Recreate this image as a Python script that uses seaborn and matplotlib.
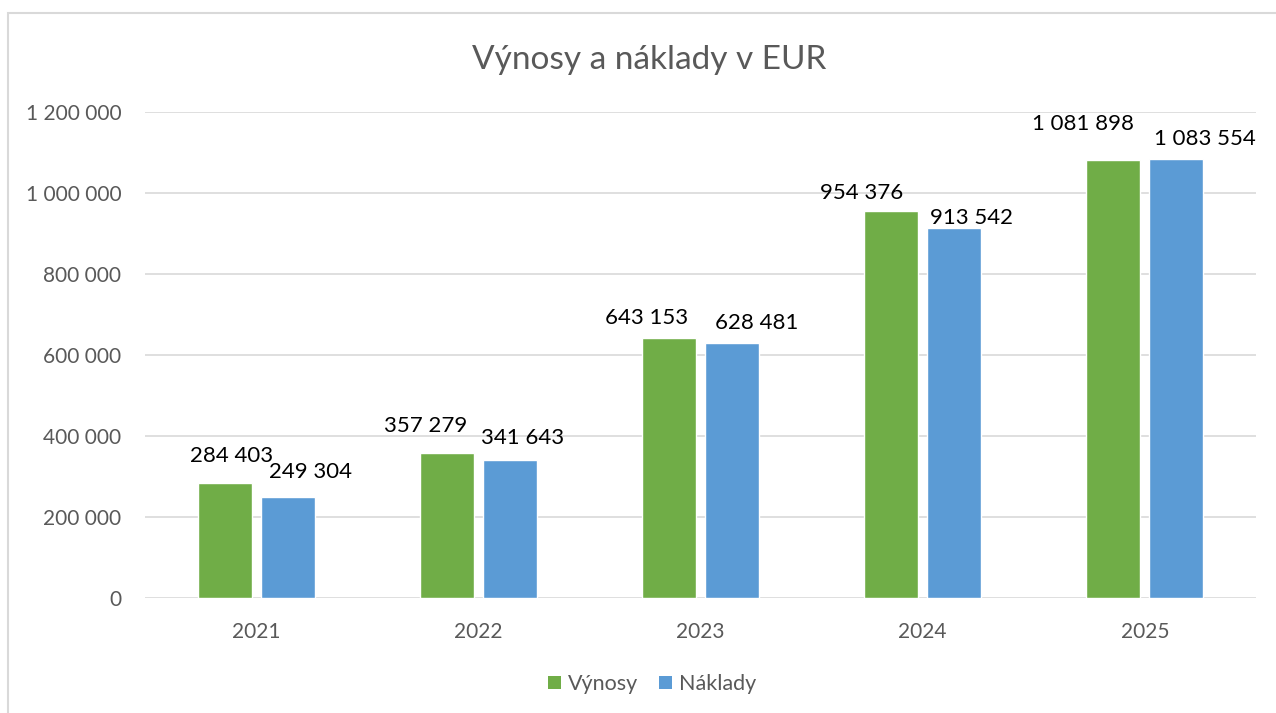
import pandas as pd
import numpy as np
import matplotlib.pyplot as plt
import seaborn as sns
from matplotlib.patches import Rectangle, Patch

# Data
years = ['2021', '2022', '2023', '2024', '2025']
vynosy = [284403, 357279, 643153, 954376, 1081898]
naklady = [249304, 341643, 628481, 913542, 1083554]
series = ['Výnosy', 'Náklady']
colors = ['#70AD47', '#5B9BD5']

# label nudges in pixels (dx, dy above bar top), per series
label_nudge = {
    'Výnosy': [(7, 27), (-21, 27), (-22, 20), (-30, 18), (-30, 36)],
    'Náklady': [(23, 25), (13, 22), (25, 20), (17, 10), (28, 20)],
}

df = pd.DataFrame({
    'rok': years * 2,
    'hodnota': vynosy + naklady,
    'typ': [series[0]] * len(years) + [series[1]] * len(years),
})

sns.set_style('white')
plt.rcParams['font.family'] = ['Lato', 'DejaVu Sans']

fig = plt.figure(figsize=(12.76, 7.13), dpi=100)
ax = fig.add_axes([145 / 1276, 1 - 598 / 713, 1111 / 1276, 486 / 713])

sns.barplot(data=df, x='rok', y='hodnota', hue='typ', hue_order=series,
            palette=colors, width=0.567, gap=0.14, saturation=1, ax=ax,
            legend=False, zorder=3)

ax.set_ylim(0, 1200000)
ax.set_xlim(-0.5, 4.5)
ax.set_yticks(np.arange(0, 1200001, 200000))
ax.set_yticklabels([f'{v:,}'.replace(',', ' ') for v in np.arange(0, 1200001, 200000)])
ax.grid(axis='y', color='#D9D9D9', lw=1.2, zorder=0)
for s in ax.spines.values():
    s.set_visible(False)
ax.tick_params(axis='both', length=0, labelsize=15, labelcolor='#595959')
ax.tick_params(axis='y', pad=17)
ax.tick_params(axis='x', pad=17)
ax.set_xlabel('')
ax.set_ylabel('')

for cont, name in zip(ax.containers, series):
    for bar, (dx, dy) in zip(cont, label_nudge[name]):
        h = bar.get_height()
        ax.annotate(f'{int(h):,}'.replace(',', ' '),
                    (bar.get_x() + bar.get_width() / 2, h),
                    xytext=(dx, dy), textcoords='offset pixels',
                    ha='center', va='center', fontsize=16, color='black')

fig.text(649 / 1276, 1 - 60 / 713, 'Výnosy a náklady v EUR', ha='center', va='center',
         fontsize=24, color='#595959')

handles = [Patch(facecolor=c, edgecolor='none') for c in colors]
fig.legend(handles, series, loc='center', bbox_to_anchor=(652 / 1276, 1 - 684 / 713),
           ncol=2, frameon=False, fontsize=15.5, labelcolor='#595959',
           handlelength=0.6, handleheight=0.6, handletextpad=0.3, columnspacing=1.0)

fig.patches.append(Rectangle((8 / 1276, -0.02), 1.1, 1 - 13 / 713 + 0.02,
                             transform=fig.transFigure, fill=False,
                             ec='#D9D9D9', lw=1.5))

fig.savefig('out.png', dpi=100)
